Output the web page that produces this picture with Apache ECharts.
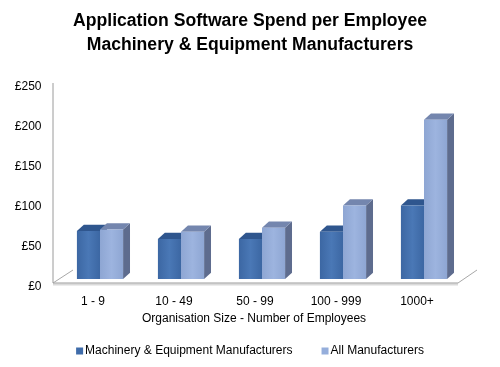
<!DOCTYPE html>
<html><head><meta charset="utf-8">
<script src="https://cdn.jsdelivr.net/npm/echarts@6/dist/echarts.min.js"></script>
<style>html,body{margin:0;padding:0;background:#fff}#c{width:500px;height:367px}</style>
</head><body><div id="c"></div>
<script>
var categories = ['1 - 9', '10 - 49', '50 - 99', '100 - 999', '1000+'];
var machinery = [60, 50, 50, 59, 92];
var allManufacturers = [62, 59, 64, 92, 199];
var yTicks = [0, 50, 100, 150, 200, 250];
var seriesNames = ['Machinery & Equipment Manufacturers', 'All Manufacturers'];

var palettes = [
  { front: ['#3C67A3', '#4A78B6'], top: '#2F568E', side: '#2E4C78', legend: '#3F6CAA' },
  { front: ['#8EA6D3', '#9DB4DF'], top: '#7486AE', side: '#5E6C8E', legend: '#95AEDB' }
];

function makeRender(idx) {
  var pal = palettes[idx];
  return function (params, api) {
    var ci = api.value(0), v = api.value(1);
    var base = api.coord([ci, 0]);
    var top = api.coord([ci, v]);
    var band = api.size([1, 0])[0];
    var w = band * 0.285;
    var dx = w * 0.3, dy = w * 0.27;
    var x0 = idx === 0 ? base[0] - w : base[0];
    var yb = base[1], yt = top[1];
    return {
      type: 'group',
      children: [
        { type: 'polygon', shape: { points: [[x0 + w, yt], [x0 + w + dx, yt - dy], [x0 + w + dx, yb - dy], [x0 + w, yb]] },
          style: { fill: pal.side } },
        { type: 'polygon', shape: { points: [[x0, yt], [x0 + w, yt], [x0 + w + dx, yt - dy], [x0 + dx, yt - dy]] },
          style: { fill: pal.top } },
        { type: 'rect', shape: { x: x0, y: yt, width: w, height: yb - yt },
          style: { fill: new echarts.graphic.LinearGradient(0, 0, 1, 0, [{ offset: 0, color: pal.front[0] }, { offset: 0.5, color: pal.front[1] }, { offset: 1, color: pal.front[0] }]) } }
      ]
    };
  };
}

function frameRender(params, api) {
  var cs = params.coordSys;
  var L = cs.x, T = cs.y, R = cs.x + cs.width, B = cs.y + cs.height;
  var fy = B + 4, by = B - 9;
  var fl = L - 6.5, fr = R - 6.5, bl = L + 13.5, br = R + 12.5;
  return {
    type: 'group',
    children: [
      { type: 'line', shape: { x1: fl, y1: fy + 1.5, x2: fr, y2: fy + 1.5 }, style: { stroke: '#DADADA', lineWidth: 2 } },
      { type: 'line', shape: { x1: fl, y1: fy, x2: fr, y2: fy }, style: { stroke: '#9A9A9A', lineWidth: 1 } },
      { type: 'line', shape: { x1: fl, y1: fy, x2: bl, y2: by }, style: { stroke: '#A8A8A8', lineWidth: 1 } },
      { type: 'line', shape: { x1: fr, y1: fy, x2: br, y2: by }, style: { stroke: '#A8A8A8', lineWidth: 1 } },
      { type: 'line', shape: { x1: fl, y1: T + 4, x2: fl, y2: fy }, style: { stroke: '#9A9A9A', lineWidth: 1 } }
    ]
  };
}

var chart = echarts.init(document.getElementById('c'), null, { renderer: 'canvas' });
chart.setOption({
  animation: false,
  backgroundColor: '#fff',
  title: {
    text: 'Application Software Spend per Employee\nMachinery & Equipment Manufacturers',
    left: 'center', top: 4,
    textStyle: { fontFamily: 'Liberation Sans, Arial', fontSize: 17.6, fontWeight: 'bold', color: '#000', lineHeight: 24 }
  },
  legend: {
    bottom: 5, left: 'center', icon: 'rect', itemWidth: 7, itemHeight: 7, itemGap: 29,
    textStyle: { fontFamily: 'Liberation Sans, Arial', fontSize: 12, color: '#000', padding: [0, 0, 0, -3] },
    data: seriesNames
  },
  grid: { left: 59.5, width: 405, top: 79, height: 200 },
  xAxis: {
    type: 'category', data: categories,
    axisLine: { show: false }, axisTick: { show: false },
    axisLabel: { margin: 17, fontFamily: 'Liberation Sans, Arial', fontSize: 12, color: '#000', padding: [0, 14, 0, 0] },
    name: 'Organisation Size - Number of Employees', nameLocation: 'middle', nameGap: 34,
    nameTextStyle: { fontFamily: 'Liberation Sans, Arial', fontSize: 12, color: '#000', padding: [0, 16, 0, 0] }
  },
  yAxis: {
    type: 'value', min: yTicks[0], max: yTicks[yTicks.length - 1], interval: 50,
    axisLine: { show: false }, axisTick: { show: false }, splitLine: { show: false },
    axisLabel: { margin: 18, fontFamily: 'Liberation Sans, Arial', fontSize: 12, color: '#000', verticalAlign: 'top', padding: [2, 0, 0, 0],
      formatter: function (v) { return '£' + v; } }
  },
  series: [
    { type: 'custom', name: 'frame', renderItem: frameRender, data: [[0, 0]], encode: { x: 0, y: 1 }, silent: true, z: 1 },
    { type: 'custom', name: seriesNames[0], renderItem: makeRender(0), itemStyle: { color: palettes[0].legend },
      data: machinery.map(function (v, i) { return [i, v]; }), encode: { x: 0, y: 1 }, z: 2 },
    { type: 'custom', name: seriesNames[1], renderItem: makeRender(1), itemStyle: { color: palettes[1].legend },
      data: allManufacturers.map(function (v, i) { return [i, v]; }), encode: { x: 0, y: 1 }, z: 3 }
  ]
});
</script></body></html>
